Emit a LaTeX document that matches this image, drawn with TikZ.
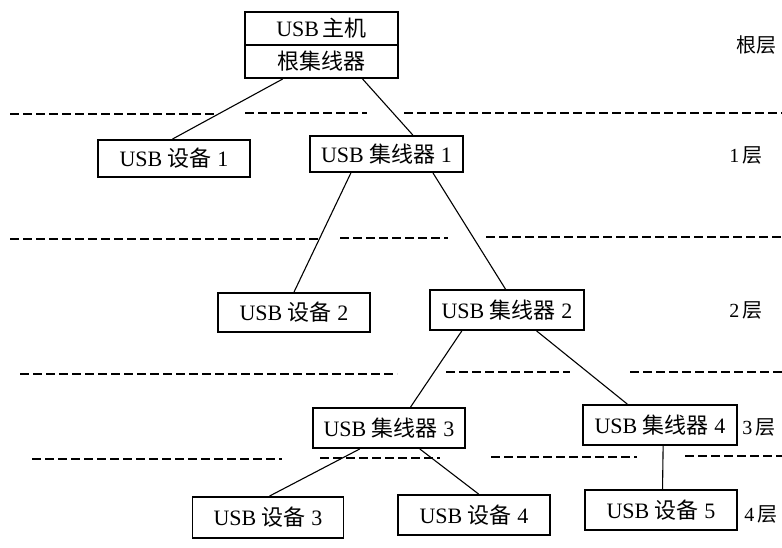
\documentclass[tikz,border=0pt]{standalone}
\usepackage{fontspec}
\setmainfont{Liberation Serif}
\newfontfamily\cjk{Noto Sans CJK SC}
\usetikzlibrary{calc}
\begin{document}
\begin{tikzpicture}[x=1pt,y=-1pt,
  box/.style={draw,line width=1.9pt,rectangle,inner sep=0pt,font=\fontsize{22}{24}\selectfont},
  conn/.style={line width=1.1pt},
  layer/.style={line width=1.8pt,dash pattern=on 9pt off 4pt},
  lab/.style={font=\fontsize{20}{22}\selectfont,inner sep=0pt}]
\useasboundingbox (0,0) rectangle (782,547);
% root
\node[box,minimum width=153pt,minimum height=33pt] (roota) at (321.5,28.5) {USB\,{\cjk 主机}};
\node[box,minimum width=153pt,minimum height=33pt] (rootb) at (321.5,61.5) {{\cjk 根集线器}};
% level 1
\node[box,minimum width=152pt,minimum height=37pt] (dev1) at (174,158.5) {USB {\cjk 设备} 1};
\node[box,minimum width=153pt,minimum height=36pt] (hub1) at (386.5,154) {USB {\cjk 集线器} 1};
% level 2
\node[box,minimum width=152pt,minimum height=39pt] (dev2) at (294,312.5) {USB {\cjk 设备} 2};
\node[box,minimum width=154pt,minimum height=40pt] (hub2) at (507,310) {USB {\cjk 集线器} 2};
% level 3
\node[box,minimum width=152pt,minimum height=40pt] (hub3) at (389,428) {USB {\cjk 集线器} 3};
\node[box,minimum width=154pt,minimum height=40pt] (hub4) at (660,425) {USB {\cjk 集线器} 4};
% level 4
\node[box,minimum width=151pt,minimum height=41pt] (dev3) at (268,517.5) {USB {\cjk 设备} 3};
\node[box,minimum width=152pt,minimum height=40pt] (dev4) at (474,515) {USB {\cjk 设备} 4};
\node[box,minimum width=152pt,minimum height=40pt] (dev5) at (661,510) {USB {\cjk 设备} 5};
% layer labels
\node[lab] (l0) at (756,45) {{\cjk 根层}};
\node[lab] (l1) at (746,155) {1\,{\cjk 层}};
\node[lab] (l2) at (746,310) {2\,{\cjk 层}};
\node[lab] (l3) at (759,427) {3\,{\cjk 层}};
\node[lab] (l4) at (761,514) {4\,{\cjk 层}};
% connectors
\draw[conn] ($(rootb.south west)!0.25!(rootb.south east)$) -- ($(dev1.north west)!0.49!(dev1.north east)$);
\draw[conn] ($(rootb.south west)!0.765!(rootb.south east)$) -- ($(hub1.north west)!0.67!(hub1.north east)$);
\draw[conn] ($(hub1.south west)!0.27!(hub1.south east)$) -- ($(dev2.north west)!0.5!(dev2.north east)$);
\draw[conn] ($(hub1.south west)!0.8!(hub1.south east)$) -- ($(hub2.north west)!0.49!(hub2.north east)$);
\draw[conn] ($(hub2.south west)!0.21!(hub2.south east)$) -- ($(hub3.north west)!0.64!(hub3.north east)$);
\draw[conn] ($(hub2.south west)!0.69!(hub2.south east)$) -- ($(hub4.north west)!0.29!(hub4.north east)$);
\draw[conn] ($(hub3.south west)!0.31!(hub3.south east)$) -- ($(dev3.north west)!0.51!(dev3.north east)$);
\draw[conn] ($(hub3.south west)!0.70!(hub3.south east)$) -- ($(dev4.north west)!0.53!(dev4.north east)$);
\draw[conn] ($(hub4.south west)!0.52!(hub4.south east)$) -- ($(dev5.north west)!0.51!(dev5.north east)$);
% dashed layer separators
\draw[layer] (10,114) -- (214,114);
\draw[layer] (245,113) -- (367,113);
\draw[layer] (404,113) -- (782,113);
\draw[layer] (10,239) -- (320,239);
\draw[layer] (340,238) -- (448,238);
\draw[layer] (486,237) -- (782,237);
\draw[layer] (20,374) -- (397,374);
\draw[layer] (446,372) -- (570,372);
\draw[layer] (630,372) -- (782,372);
\draw[layer] (32,459) -- (282,459);
\draw[layer] (320,458) -- (440,458);
\draw[layer] (491,457) -- (637,457);
\draw[layer] (685,456) -- (782,456);
\end{tikzpicture}
\end{document}
